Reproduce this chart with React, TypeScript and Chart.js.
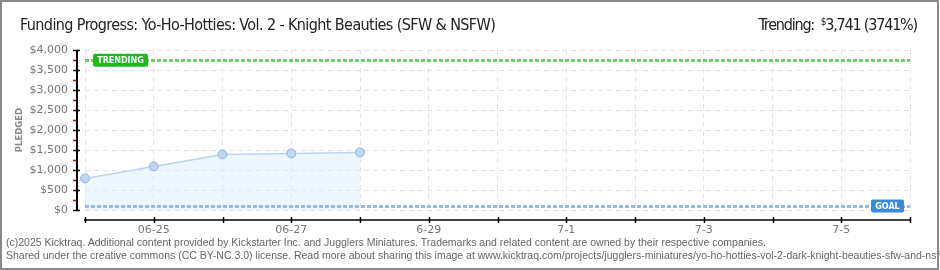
import React, { useEffect, useRef } from "react";
import { Chart, registerables } from "chart.js";

Chart.register(...registerables);

const DATES = ["06-24", "06-25", "06-26", "06-27", "06-28", "06-29", "06-30", "07-01", "07-02", "07-03", "07-04", "07-05", "07-06"];
const TICK_LABELS = ["", "06-25", "", "06-27", "", "6-29", "", "7-1", "", "7-3", "", "7-5", ""];
const PLEDGED = [790, 1090, 1390, 1415, 1440];
const TRENDING_VALUE = 3741;
const GOAL_VALUE = 100;
const Y_MAX = 4000;
const Y_STEP = 500;
const Y_MINOR = 250;

const TITLE = "Funding Progress: Yo-Ho-Hotties: Vol. 2 - Knight Beauties (SFW & NSFW)";
const FOOTER_1 =
  "(c)2025 Kicktraq. Additional content provided by Kickstarter Inc. and Jugglers Miniatures. Trademarks and related content are owned by their respective companies.";
const FOOTER_2 =
  "Shared under the creative commons (CC BY-NC 3.0) license. Read more about sharing this image at www.kicktraq.com/projects/jugglers-miniatures/yo-ho-hotties-vol-2-dark-knight-beauties-sfw-and-nsfw/";

function drawTag(ctx: CanvasRenderingContext2D, text: string, x: number, cy: number, w: number, bg: string) {
  const h = 13;
  ctx.save();
  ctx.fillStyle = bg;
  ctx.beginPath();
  (ctx as any).roundRect(x, cy - h / 2, w, h, 2);
  ctx.fill();
  ctx.fillStyle = "#ffffff";
  ctx.font = "bold 8px 'DejaVu Sans'";
  ctx.textAlign = "center";
  ctx.textBaseline = "middle";
  ctx.fillText(text, x + w / 2, cy + 0.5);
  ctx.restore();
}

const decorPlugin = {
  id: "decor",
  afterDatasetsDraw(chart: any) {
    const ctx: CanvasRenderingContext2D = chart.ctx;
    const { left, right, bottom } = chart.chartArea;
    const x = chart.scales.x;
    const y = chart.scales.y;

    // trending & goal lines
    const lines = [
      { v: TRENDING_VALUE, color: "#6fcf6f" },
      { v: GOAL_VALUE, color: "#93bbe6" },
    ];
    ctx.save();
    for (const l of lines) {
      const py = Math.round(y.getPixelForValue(l.v)) + 0.5;
      ctx.strokeStyle = l.color;
      ctx.lineWidth = 3;
      ctx.setLineDash([4, 2]);
      ctx.beginPath();
      ctx.moveTo(left, py);
      ctx.lineTo(right, py);
      ctx.stroke();
    }
    ctx.restore();
    drawTag(ctx, "TRENDING", left + 8, y.getPixelForValue(TRENDING_VALUE), 55, "#1fb81f");
    drawTag(ctx, "GOAL", right - 39, y.getPixelForValue(GOAL_VALUE), 33, "#3b89d9");

    // y axis
    ctx.save();
    const ax = left - 8;
    ctx.strokeStyle = "#000";
    ctx.lineWidth = 2;
    ctx.beginPath();
    ctx.moveTo(ax, y.getPixelForValue(Y_MAX));
    ctx.lineTo(ax, y.getPixelForValue(0) + 1);
    ctx.stroke();
    for (let v = 0; v <= Y_MAX; v += Y_MINOR) {
      const py = Math.round(y.getPixelForValue(v)) + 0.5;
      ctx.beginPath();
      if (v % Y_STEP === 0) {
        ctx.strokeStyle = "#000";
        ctx.lineWidth = 1.5;
        ctx.moveTo(ax - 4, py);
        ctx.lineTo(ax + 3, py);
      } else {
        ctx.strokeStyle = "#e00000";
        ctx.lineWidth = 1.5;
        ctx.moveTo(ax - 4, py);
        ctx.lineTo(ax - 1, py);
      }
      ctx.stroke();
    }
    // x axis
    const ay = bottom + 10;
    ctx.strokeStyle = "#000";
    ctx.lineWidth = 1.5;
    ctx.beginPath();
    ctx.moveTo(left - 1, ay);
    ctx.lineTo(right + 1, ay);
    ctx.stroke();
    for (let i = 0; i < DATES.length; i++) {
      const px = Math.round(x.getPixelForValue(i)) + 0.5;
      ctx.beginPath();
      ctx.moveTo(px, ay - 3);
      ctx.lineTo(px, ay + 3);
      ctx.stroke();
    }
    ctx.restore();
  },
};

export default function App() {
  const ref = useRef<HTMLCanvasElement | null>(null);

  useEffect(() => {
    if (!ref.current) return;
    const chart = new Chart(ref.current, {
      type: "line",
      data: {
        labels: DATES,
        datasets: [
          {
            data: PLEDGED,
            borderColor: "#bad5f2",
            borderWidth: 1.5,
            backgroundColor: "rgba(214,232,250,0.45)",
            fill: "origin",
            tension: 0,
            pointRadius: 4.5,
            pointBackgroundColor: "#bcd6f3",
            pointBorderColor: "#94b4dc",
            pointBorderWidth: 1,
            clip: false,
          } as any,
        ],
      },
      options: {
        responsive: false,
        animation: false,
        events: [],
        layout: { padding: { left: 0, top: 50, right: 30, bottom: 0 } },
        plugins: { legend: { display: false }, tooltip: { enabled: false } },
        scales: {
          x: {
            type: "category",
            offset: false,
            afterFit: (s: any) => {
              s.height = 60;
            },
            grid: { color: "#e4e4e4", lineWidth: 1, drawTicks: false },
            border: { display: false, dash: [5, 4] },
            ticks: {
              autoSkip: false,
              maxRotation: 0,
              padding: 14,
              color: "#777",
              font: { family: "DejaVu Sans", size: 11 },
              callback: (_v: any, i: number) => TICK_LABELS[i],
            },
          },
          y: {
            min: 0,
            max: Y_MAX,
            afterFit: (s: any) => {
              s.width = 85;
            },
            grid: { color: "#e4e4e4", lineWidth: 1, drawTicks: false },
            border: { display: false, dash: [5, 4] },
            title: {
              display: true,
              text: "PLEDGED",
              color: "#888",
              font: { family: "DejaVu Sans", size: 8.5, weight: "bold" },
              padding: { top: 15, bottom: 0 },
            },
            ticks: {
              stepSize: Y_STEP,
              padding: 17,
              color: "#777",
              font: { family: "DejaVu Sans", size: 11 },
              callback: (v: any) => "$" + Number(v).toLocaleString("en-US"),
            },
          },
        },
      },
      plugins: [decorPlugin],
    });
    return () => chart.destroy();
  }, []);

  const pct = Math.round((TRENDING_VALUE / GOAL_VALUE) * 100);

  return (
    <div
      style={{
        position: "absolute",
        left: 0,
        top: 0,
        width: 940,
        height: 270,
        overflow: "hidden",
        background: "#fff",
      }}
    >
      <canvas ref={ref} width={940} height={270} style={{ position: "absolute", left: 0, top: 0 }} />
      <div
        style={{
          position: "absolute",
          left: 20,
          top: 17,
          fontFamily: "'DejaVu Sans Condensed', 'Liberation Sans Narrow', sans-serif",
          fontSize: 16,
          letterSpacing: "-0.6px",
          lineHeight: "16px",
          color: "#222",
          whiteSpace: "nowrap",
        }}
      >
        {TITLE}
      </div>
      <div
        style={{
          position: "absolute",
          right: 23,
          top: 17,
          fontFamily: "'DejaVu Sans Condensed', 'Liberation Sans Narrow', sans-serif",
          fontSize: 16,
          letterSpacing: "-1.2px",
          lineHeight: "16px",
          color: "#222",
          whiteSpace: "nowrap",
        }}
      >
        Trending:&nbsp;{" "}
        <span style={{ fontSize: 10, position: "relative", top: -5 }}>$</span>
        {TRENDING_VALUE.toLocaleString("en-US")} ({pct}%)
      </div>
      <div
        style={{
          position: "absolute",
          left: 6,
          top: 236,
          fontFamily: "'Liberation Sans', sans-serif",
          fontSize: 10.5,
          lineHeight: "13px",
          color: "#666",
          whiteSpace: "nowrap",
        }}
      >
        <div>{FOOTER_1}</div>
        <div>{FOOTER_2}</div>
      </div>
      <div
        style={{
          position: "absolute",
          left: 0,
          top: 0,
          width: 939,
          height: 270,
          boxSizing: "border-box",
          border: "2px solid #8a8a8a",
          pointerEvents: "none",
        }}
      />
    </div>
  );
}
